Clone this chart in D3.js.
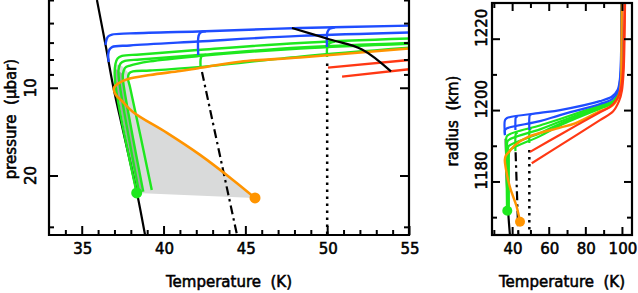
<!DOCTYPE html>
<html>
<head>
<meta charset="utf-8">
<script src="https://cdn.jsdelivr.net/npm/d3@7"></script>
<style>
  body { margin: 0; background: #fff; }
  text { font-family: "DejaVu Sans", sans-serif; font-size: 15px; fill: #000; stroke: #000; stroke-width: 0.55px; }
</style>
</head>
<body>
<div id="chart"></div>
<script>
// ---- data: left panel, [temperature K, pressure microbar] ----
const satCurveL = [[35.93, 5.0], [36.48, 7.25], [36.94, 10.0], [37.52, 14.0], [38.38, 23.0], [38.87, 32]];
const dashDotL = [[42.35, 8.83], [44.49, 32]];
const dottedL = [[50, 8.25], [50, 32]];
const upperBlackL = [[47.85, 6.24], [50.17, 6.83], [52.13, 7.39], [53.9, 8.79]];

const blue1L = [[55, 6.12], [48.34, 6.24], [42.11, 6.41], [37.95, 6.51], [36.85, 6.57], [36.61, 6.67], [36.51, 6.86], [36.45, 7.13]];
const blue2L = [[55, 6.46], [48.34, 6.64], [42.11, 6.94], [37.95, 7.16], [36.85, 7.25], [36.70, 7.39], [36.62, 7.66], [36.65, 8.16]];
const green1L = [[55, 6.78], [48.34, 7.02], [42.11, 7.42], [38.56, 7.69], [37.46, 7.78], [37.19, 7.94], [37.06, 8.29], [37.03, 9.40], [38.36, 22.96]];
const green2L = [[55, 7.02], [48.34, 7.28], [42.11, 7.72], [38.56, 8.00], [37.64, 8.09], [37.37, 8.26], [37.25, 8.69], [37.28, 9.40], [38.50, 22.78]];
const green3L = [[55, 7.06], [48.34, 7.33], [42.11, 7.79], [39.17, 8.12], [37.95, 8.39], [37.64, 8.55], [37.52, 8.97], [37.52, 9.40], [38.76, 22.72]];
const green4L = [[55, 7.29], [48.34, 7.82], [42.11, 8.50], [39.17, 8.73], [38.13, 8.79], [37.89, 8.93], [37.83, 9.33], [37.95, 9.94], [39.28, 22.42]];
const orangeL = [[55, 7.33], [48.34, 7.87], [44.67, 8.14], [42.11, 8.57], [41.01, 8.76], [39.17, 9.04], [37.83, 9.33], [37.28, 9.63], [36.97, 10.02],
  [37.09, 10.59], [37.46, 11.10], [38.13, 12.11], [40.21, 14.29], [42.23, 17.0], [44.24, 20.71], [45.59, 23.88]];
const red1L = [[50.05, 8.53], [55, 8.03]];
const red2L = [[50.91, 9.16], [55, 8.64]];

const blueBranch42L = [[42.59, 6.40], [42.26, 6.46], [42.14, 6.64], [42.12, 7.72]];
const greenBranch42L = [[42.59, 7.70], [42.32, 7.81], [42.26, 8.03], [42.26, 8.42]];
const blueBranch50L = [[50.48, 6.20], [50.14, 6.28], [50.01, 6.46], [49.99, 7.25]];
const greenBranch50L = [[50.48, 6.94], [50.14, 7.04], [50.01, 7.25], [49.99, 7.84]];

const shadeL = [[37.06, 8.29], [37.03, 9.40], [38.36, 22.96], [45.59, 23.88], [44.24, 20.71], [42.23, 17.0], [40.21, 14.29],
  [38.29, 12.26], [37.95, 9.94], [37.83, 9.33], [37.89, 8.93], [37.46, 8.42]];
const shadeDarkL = [[37.06, 8.6], [37.03, 9.40], [38.36, 22.96], [38.76, 22.72], [37.52, 9.40], [37.52, 8.97]];
const greenDotL = [38.36, 22.96];
const orangeDotL = [45.59, 23.88];

const xMajorL = [35, 40, 45, 50, 55];
const xMinorL = d3.range(34, 55, 1).filter(v => v % 5 !== 0);
const yMajorL = [10, 20];
const yMinorL = [5, 6, 7, 8, 9, 30];

// ---- data: right panel, [temperature K, radius km] ----
const satCurveR = [[36.5, 1192], [37.1, 1180], [37.9, 1171.1], [38.8, 1165]];
const dashDotR = [[41.9, 1188.2], [43.4, 1165]];
const dottedR = [[49.4, 1188.8], [49.4, 1165]];

const blue1R = [[36.1, 1193.0], [36.1, 1197.2], [37.2, 1197.8], [55.2, 1199.2], [66.2, 1200.0], [88.0, 1202.5], [94.6, 1203.8], [97.6, 1205.6], [98.95, 1209.0], [99.5, 1215.4], [99.9, 1230]];
const blue2R = [[36.1, 1193.0], [36.1, 1194.4], [37.2, 1194.9], [55.2, 1196.9], [66.2, 1198.6], [88.0, 1201.7], [94.6, 1203.1], [97.85, 1205.3], [99.1, 1209.0], [99.6, 1215.4], [99.93, 1230]];
const green1R = [[37.2, 1171.8], [36.9, 1185], [36.7, 1191.5], [37.3, 1192.8], [55.2, 1195.7], [66.2, 1197.5], [88.0, 1201.3], [95.1, 1202.5], [98.1, 1204.9], [99.3, 1208.4], [99.66, 1215.4], [99.93, 1230]];
const green2R = [[37.5, 1171.8], [37.3, 1185], [37.2, 1190.5], [37.8, 1191.5], [55.2, 1194.6], [66.2, 1196.8], [88.0, 1201.0], [95.1, 1202.3], [98.1, 1204.8], [99.3, 1208.4], [99.66, 1215.4], [99.93, 1230]];
const green3R = [[37.8, 1172], [37.7, 1185], [37.7, 1189.2], [38.3, 1190.0], [55.2, 1193.5], [66.2, 1196.2], [88.0, 1200.7], [95.1, 1202.1], [98.1, 1204.7], [99.3, 1208.4], [99.66, 1215.4], [99.93, 1230]];
const green4R = [[38.2, 1172.2], [38.2, 1185], [38.3, 1188.0], [38.8, 1188.8], [55.2, 1192.7], [66.2, 1195.7], [88.0, 1200.4], [95.1, 1201.9], [98.1, 1204.6], [99.3, 1208.4], [99.66, 1215.4], [99.93, 1230]];
const orangeR = [[44.3, 1168.7], [42.5, 1172.9], [38.8, 1178.4], [36.6, 1183.5], [36.0, 1186.0], [36.6, 1187.3], [38.3, 1188.3], [41.6, 1190.2], [48.8, 1192.5],
  [66.2, 1195.1], [74.4, 1196.3], [88.0, 1199.7], [95.1, 1201.4], [98.4, 1204.2], [99.5, 1207.9], [99.7, 1215.4], [99.93, 1230]];
const red1R = [[49.8, 1188.3], [66.2, 1193.1], [88.0, 1199.4], [93.5, 1200.9], [97.3, 1203.1], [99.5, 1206.2], [100.6, 1211.2], [101.1, 1219.6], [101.4, 1230]];
const red2R = [[50.7, 1185.1], [66.2, 1190.1], [88.0, 1197.2], [95.1, 1199.6], [98.4, 1202.5], [100.0, 1205.5], [100.9, 1210.8], [101.4, 1219.6], [101.7, 1230]];

const blueBranch42R = [[43.0, 1198.25], [42.0, 1197.9], [41.8, 1197.0], [41.8, 1194.4]];
const greenBranch42R = [[43.0, 1193.7], [42.0, 1193.3], [41.8, 1192.5], [41.8, 1188.5]];
const blueBranch50R = [[50.6, 1198.85], [49.7, 1198.6], [49.4, 1197.8], [49.4, 1194.4]];
const greenBranch50R = [[50.6, 1194.95], [49.7, 1194.6], [49.4, 1193.8], [49.4, 1190.8]];
const greenDotR = [37.35, 1171.8];
const orangeDotR = [44.3, 1168.7];

const xMajorR = [40, 60, 80, 100];
const xMinorR = [30, 50, 70, 90];
const yMajorR = [1180, 1200, 1220];
const yMinorR = [1170, 1190, 1210];

// colours
const BLUE = "#1f4dff", GREEN = "#1ee81e", ORANGE = "#ff9400", RED = "#ff3814";

// ---- svg ----
const svg = d3.select("#chart").append("svg")
  .attr("width", 638).attr("height", 293);

// scales
const xL = d3.scaleLinear().domain([33, 55]).range([49, 409]);
const yL = d3.scaleLog().domain([5, 32]).range([0, 235]);
const xR = d3.scaleLinear().domain([29, 105.5]).range([492, 632]);
const yR = d3.scaleLinear().domain([1165, 1230]).range([235, 3]);

const defs = svg.append("defs");
defs.append("clipPath").attr("id", "clipL").append("rect")
  .attr("x", 49).attr("y", 0).attr("width", 360).attr("height", 235);
defs.append("clipPath").attr("id", "clipR").append("rect")
  .attr("x", 492).attr("y", 3).attr("width", 140).attr("height", 232);

const plotL = svg.append("g").attr("clip-path", "url(#clipL)");
const plotR = svg.append("g").attr("clip-path", "url(#clipR)");

function drawLine(g, data, x, y, color, width, dash) {
  const line = d3.line()
    .x(d => x(d[0]))
    .y(d => y(d[1]))
    .curve(d3.curveCatmullRom.alpha(0.5));
  g.append("path")
    .datum(data)
    .attr("d", line)
    .attr("fill", "none")
    .attr("stroke", color)
    .attr("stroke-width", width)
    .attr("stroke-linejoin", "round")
    .attr("stroke-dasharray", dash || null);
}

function drawArea(g, data, x, y, color) {
  g.append("path")
    .datum(data)
    .attr("d", d3.line().x(d => x(d[0])).y(d => y(d[1])).curve(d3.curveLinearClosed))
    .attr("fill", color)
    .attr("stroke", "none");
}

// step 1 left panel marks
drawArea(plotL, shadeL, xL, yL, "#d9dada");
drawArea(plotL, shadeDarkL, xL, yL, "#a4a4a4");
drawLine(plotL, satCurveL, xL, yL, "#000", 2.2);
drawLine(plotL, dashDotL, xL, yL, "#000", 2.2, "9,4,2.5,4");
drawLine(plotL, dottedL, xL, yL, "#000", 2.5, "2.5,4.5");

[green4L, green3L, green2L, green1L].forEach(d => drawLine(plotL, d, xL, yL, GREEN, 2.4));
drawLine(plotL, greenBranch42L, xL, yL, GREEN, 2.4);
drawLine(plotL, greenBranch50L, xL, yL, GREEN, 2.4);
[blue2L, blue1L].forEach(d => drawLine(plotL, d, xL, yL, BLUE, 2.4));
drawLine(plotL, blueBranch42L, xL, yL, BLUE, 2.4);
drawLine(plotL, blueBranch50L, xL, yL, BLUE, 2.4);
drawLine(plotL, orangeL, xL, yL, ORANGE, 2.6);
drawLine(plotL, red1L, xL, yL, RED, 2.4);
drawLine(plotL, red2L, xL, yL, RED, 2.4);
drawLine(plotL, upperBlackL, xL, yL, "#000", 2.2);

plotL.append("circle").attr("cx", xL(greenDotL[0])).attr("cy", yL(greenDotL[1])).attr("r", 5.5).attr("fill", GREEN);
plotL.append("circle").attr("cx", xL(orangeDotL[0])).attr("cy", yL(orangeDotL[1])).attr("r", 5.5).attr("fill", ORANGE);

// step 2 right panel marks
drawLine(plotR, satCurveR, xR, yR, "#000", 2.2);
drawLine(plotR, dashDotR, xR, yR, "#000", 2.2, "9,4,2.5,4");
drawLine(plotR, dottedR, xR, yR, "#000", 2.5, "2.5,4.5");
[green4R, green3R, green2R, green1R].forEach(d => drawLine(plotR, d, xR, yR, GREEN, 2.2));
drawLine(plotR, greenBranch42R, xR, yR, GREEN, 2.2);
drawLine(plotR, greenBranch50R, xR, yR, GREEN, 2.2);
[blue2R, blue1R].forEach(d => drawLine(plotR, d, xR, yR, BLUE, 2.2));
drawLine(plotR, blueBranch42R, xR, yR, BLUE, 2.2);
drawLine(plotR, blueBranch50R, xR, yR, BLUE, 2.2);
drawLine(plotR, orangeR, xR, yR, ORANGE, 2.4);
drawLine(plotR, red1R, xR, yR, RED, 2.2);
drawLine(plotR, red2R, xR, yR, RED, 2.2);

plotR.append("circle").attr("cx", xR(greenDotR[0])).attr("cy", yR(greenDotR[1])).attr("r", 5).attr("fill", GREEN);
plotR.append("circle").attr("cx", xR(orangeDotR[0])).attr("cy", yR(orangeDotR[1])).attr("r", 5).attr("fill", ORANGE);

// step 3 axes (ticks point inward)
function ticks(axis, values, size, transform) {
  const g = svg.append("g").attr("transform", transform)
    .call(axis.tickValues(values).tickSizeInner(size).tickSizeOuter(0).tickFormat(""));
  g.select(".domain").remove();
  g.selectAll("line").attr("stroke", "#000").attr("stroke-width", 2);
  return g;
}

// left panel
ticks(d3.axisBottom(xL), xMajorL, -9, "translate(0,235)");
ticks(d3.axisBottom(xL), xMinorL, -5, "translate(0,235)");
ticks(d3.axisLeft(yL), yMajorL, -9, "translate(49,0)");
ticks(d3.axisLeft(yL), yMinorL, -5, "translate(49,0)");
ticks(d3.axisRight(yL), yMajorL, -9, "translate(409,0)");
ticks(d3.axisRight(yL), yMinorL, -5, "translate(409,0)");

// right panel
ticks(d3.axisBottom(xR), xMajorR, -8, "translate(0,235)");
ticks(d3.axisBottom(xR), xMinorR, -5, "translate(0,235)");
ticks(d3.axisTop(xR), xMajorR, -8, "translate(0,3)");
ticks(d3.axisTop(xR), xMinorR, -5, "translate(0,3)");
ticks(d3.axisLeft(yR), yMajorR, -8, "translate(492,0)");
ticks(d3.axisLeft(yR), yMinorR, -5, "translate(492,0)");
ticks(d3.axisRight(yR), yMajorR, -8, "translate(632,0)");
ticks(d3.axisRight(yR), yMinorR, -5, "translate(632,0)");

// frames
const frame = svg.append("g").attr("fill", "none").attr("stroke", "#000").attr("stroke-width", 2.2);
frame.append("path").attr("d", d3.line()([[49, -2], [49, 235], [409, 235], [409, -2]]));
frame.append("rect").attr("x", 492).attr("y", 3).attr("width", 140).attr("height", 232);

// tick labels
svg.selectAll(".xlabL").data(xMajorL).enter().append("text")
  .attr("x", d => xL(d) + 1).attr("y", 254).attr("text-anchor", "middle").text(d => d);
svg.selectAll(".xlabR").data(xMajorR).enter().append("text")
  .attr("x", d => xR(d) + 1).attr("y", 254).attr("text-anchor", "middle").text(d => d);
svg.selectAll(".ylabL").data(yMajorL).enter().append("text")
  .attr("text-anchor", "middle")
  .attr("transform", d => "translate(36," + yL(d) + ") rotate(-90)")
  .text(d => d);
svg.selectAll(".ylabR").data(yMajorR).enter().append("text")
  .attr("text-anchor", "middle")
  .attr("transform", d => "translate(487," + (yR(d) - 11) + ") rotate(-90)")
  .text(d => d);

// axis titles
svg.append("text").attr("x", 229).attr("y", 287).attr("text-anchor", "middle")
  .attr("xml:space", "preserve").text("Temperature  (K)");
svg.append("text").attr("x", 562).attr("y", 287).attr("text-anchor", "middle")
  .attr("xml:space", "preserve").text("Temperature  (K)");
svg.append("text").attr("text-anchor", "middle")
  .attr("transform", "translate(16,119) rotate(-90)")
  .attr("xml:space", "preserve").text("pressure  (\u03bcbar)");
svg.append("text").attr("text-anchor", "middle")
  .attr("transform", "translate(458,121) rotate(-90)")
  .attr("xml:space", "preserve").text("radius  (km)");
</script>
</body>
</html>
